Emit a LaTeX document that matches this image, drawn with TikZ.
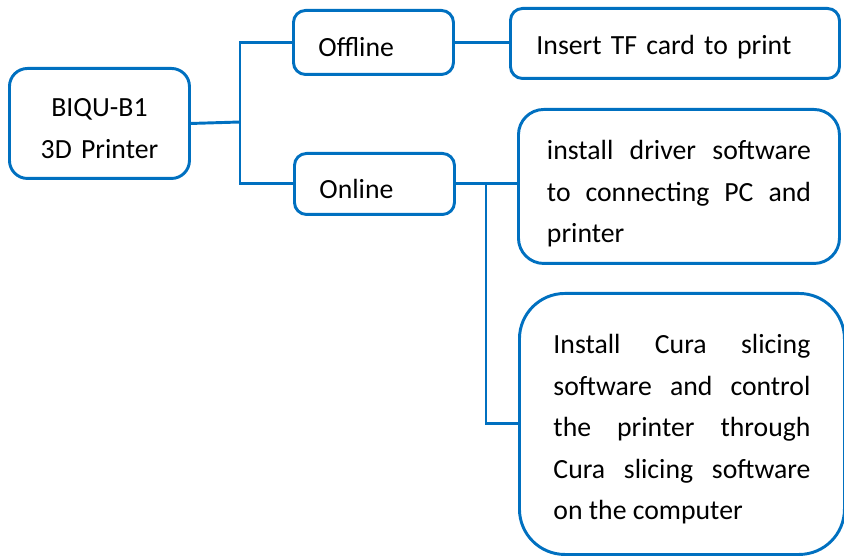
\documentclass[tikz,border=0pt]{standalone}
\usepackage{fontspec}
\setmainfont{Carlito}
\definecolor{boxblue}{RGB}{0,112,192}
\tolerance=10000
\hyphenpenalty=10000

\begin{document}
\begin{tikzpicture}[
    x=0.75pt, y=-0.75pt,
    every node/.style={font=\fontsize{20.8pt}{31.2pt}\selectfont},
    flow box/.style={draw=boxblue, line width=2.2pt, inner ysep=0pt, anchor=north west},
    root node/.style={flow box, rounded corners=13.5pt, inner xsep=0pt, text width=135pt, align=center, text height=36pt, text depth=46.5pt},
    mode node/.style={flow box, rounded corners=9pt, inner xsep=18.75pt, text width=82.5pt, align=left, text height=34.5pt, text depth=13.5pt},
    leaf node/.style={flow box, rounded corners=9pt, inner xsep=19.5pt, text width=207.75pt, align=left, text height=34.5pt, text depth=18pt},
    note node/.style={flow box, align=justify},
    main edge/.style={draw=boxblue, line width=2.2pt}
]
\useasboundingbox (0,0) rectangle (844,556);

% Drucker und Betriebsarten
\node[root node] (B1)      at (8,67)   {BIQU-B1\\3D Printer};
\node[mode node] (Offline) at (292,9)  {Offline};
\node[mode node, text height=33.75pt, text depth=12pt] (Online) at (293,152) {Online};

% Erklaerungen
\node[leaf node] (TFcard) at (509,7) {Insert TF card to print};
\node[note node, rounded corners=19pt, inner xsep=21.375pt, text width=198pt, text height=37.5pt, text depth=78pt] (Driver) at (517,108)
    {install driver software\linebreak to connecting PC and\linebreak printer};
\node[note node, rounded corners=34pt, inner xsep=25.5pt, text width=192.75pt, text height=45pt, text depth=150.75pt] (Cura) at (518,292)
    {Install Cura slicing\linebreak software and control\linebreak the printer through\linebreak Cura slicing software\linebreak on the computer};

% Verbindungen
\coordinate (trunk) at (240,122);
\coordinate (split) at (486,182.5);
\draw[main edge] (B1.east) -- (trunk);
\draw[main edge] (trunk) |- (Offline.west);
\draw[main edge] (trunk) |- (Online.west);
\draw[main edge] (Offline.east) -- (Offline.east -| TFcard.west);
\draw[main edge] (Online.east) -- (Online.east -| Driver.west);
\draw[main edge] (split) |- (Cura.west);

\end{tikzpicture}
\end{document}
